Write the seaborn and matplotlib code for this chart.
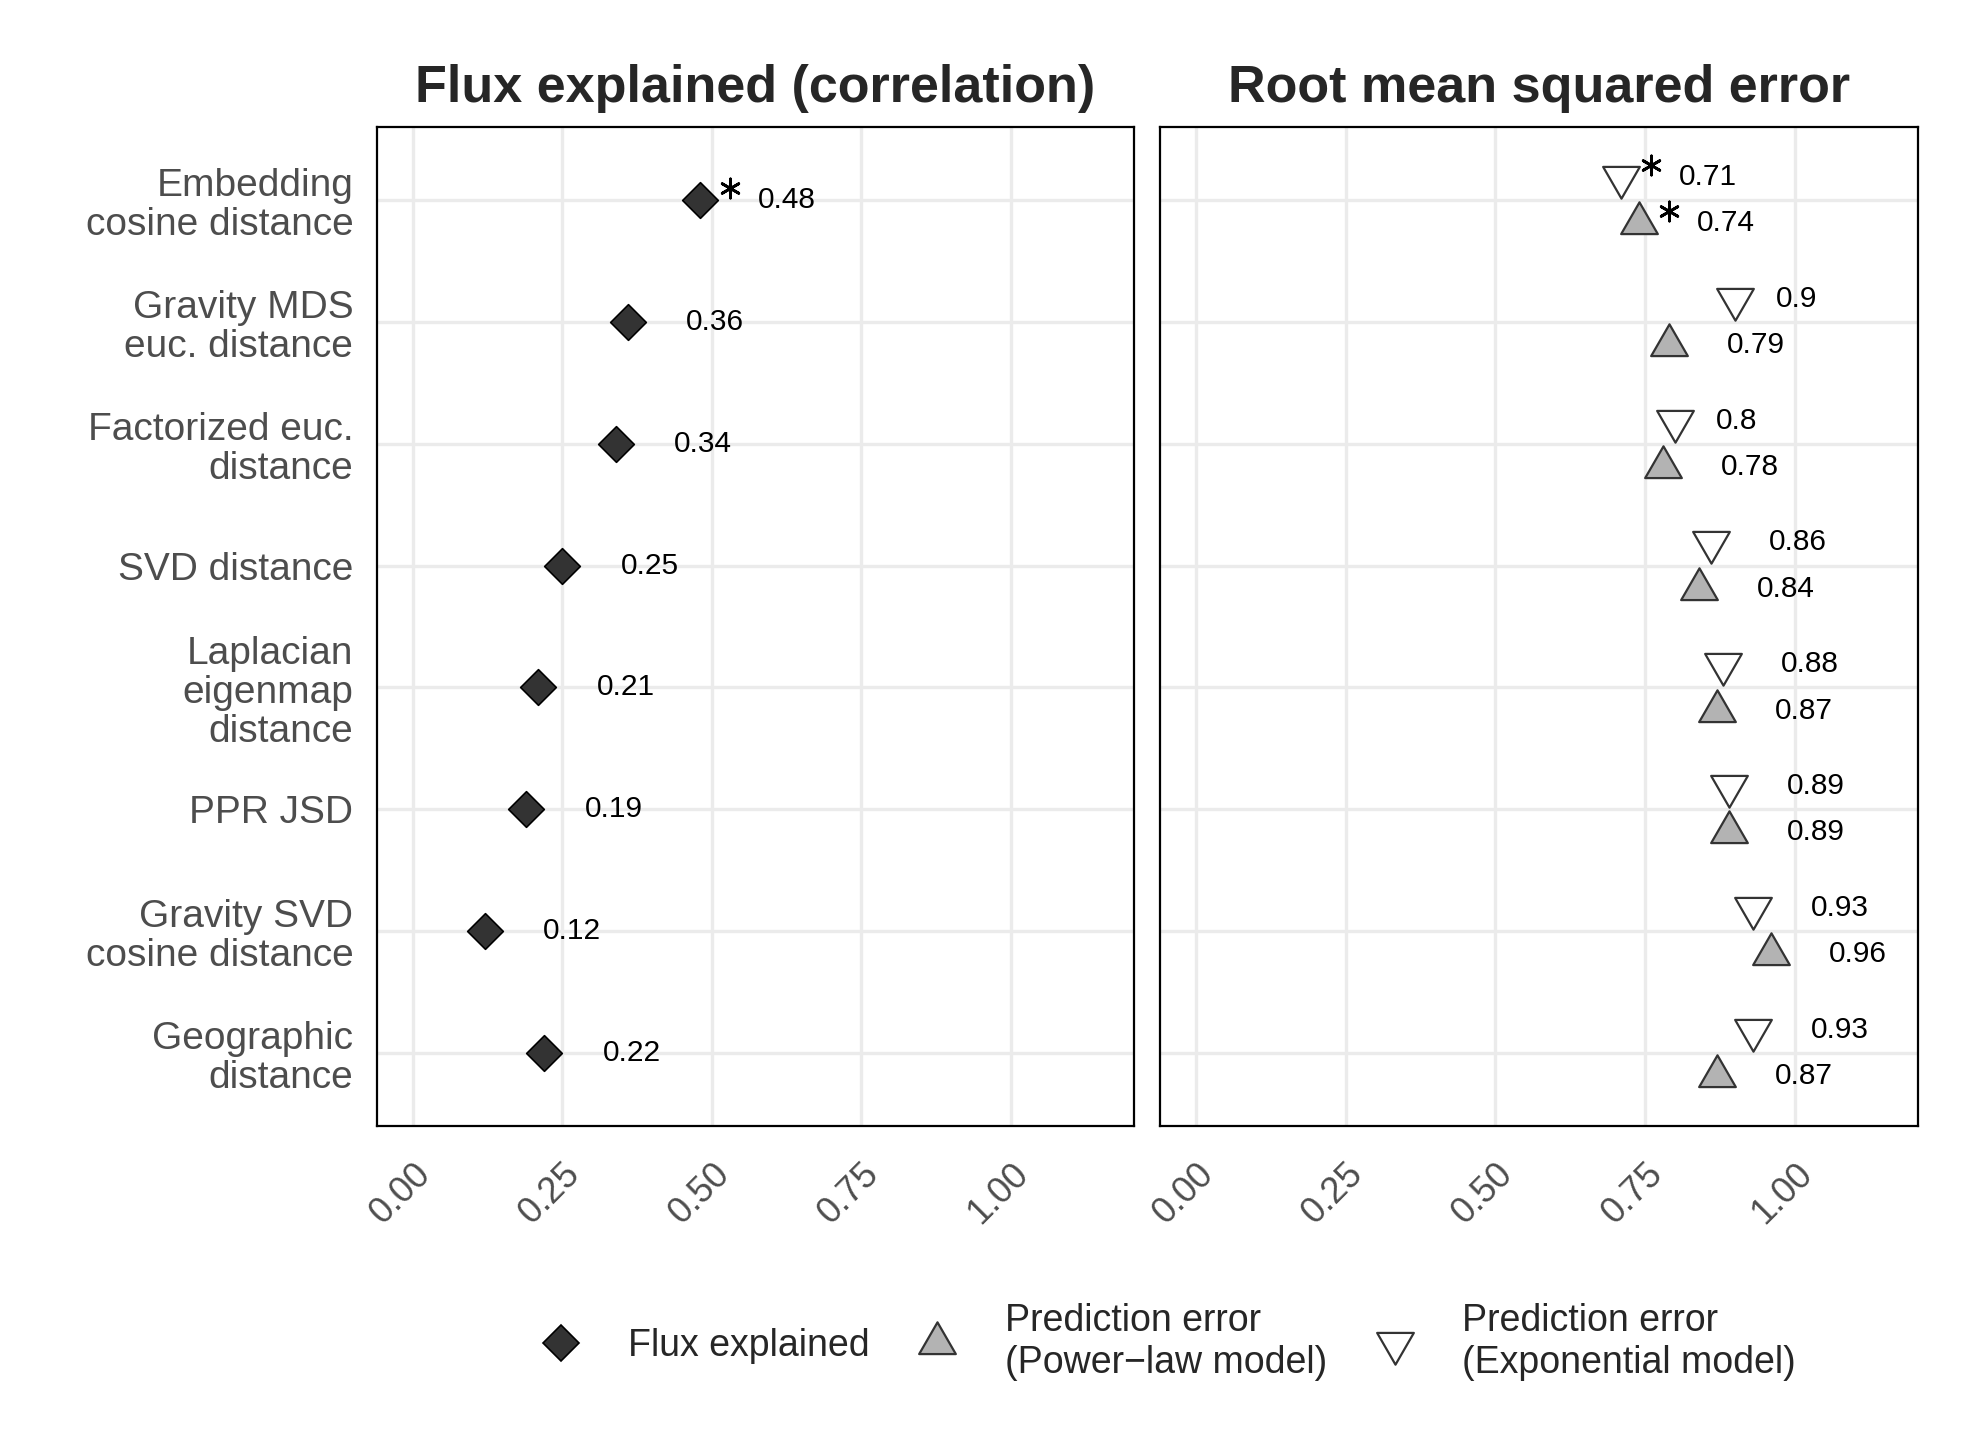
"""
Comparação das medidas de distância:
- painel esquerdo: fluxo explicado (correlação)
- painel direito: erro quadrático médio (modelos lei de potência / exponencial)
"""

import numpy as np
import pandas as pd
import matplotlib.pyplot as plt
import seaborn as sns
from matplotlib.lines import Line2D
from matplotlib.path import Path
from matplotlib.transforms import offset_copy

# Dados
metodos = ['Embedding\ncosine distance', 'Gravity MDS\neuc. distance',
           'Factorized euc.\ndistance', 'SVD distance',
           'Laplacian\neigenmap\ndistance', 'PPR JSD',
           'Gravity SVD\ncosine distance', 'Geographic\ndistance']
fluxo = [0.48, 0.36, 0.34, 0.25, 0.21, 0.19, 0.12, 0.22]
erro_potencia = [0.74, 0.79, 0.78, 0.84, 0.87, 0.89, 0.96, 0.87]
erro_exponencial = [0.71, 0.90, 0.80, 0.86, 0.88, 0.89, 0.93, 0.93]
sig_fluxo = [True, False, False, False, False, False, False, False]
sig_potencia = [True, False, False, False, False, False, False, False]
sig_exponencial = [True, False, False, False, False, False, False, False]
ticks_x = [0.0, 0.25, 0.5, 0.75, 1.0]

df = pd.DataFrame({'metodo': metodos, 'fluxo': fluxo,
                   'potencia': erro_potencia, 'exponencial': erro_exponencial})
df['pos'] = np.arange(len(df))

sns.set_style('white')
plt.rcParams['font.family'] = ['Liberation Sans', 'DejaVu Sans']

# Triângulos equiláteros centrados no baricentro (como no ggplot)
tri_cima = Path([(0, 1.155), (-1, -0.577), (1, -0.577), (0, 1.155)], closed=True)
tri_baixo = Path([(0, -1.155), (-1, 0.577), (1, 0.577), (0, -1.155)], closed=True)
TAM_D = 330
TAM_T = 930
dodge = 0.19

fig = plt.figure(figsize=(19.88, 14.32), dpi=100)
ax1 = fig.add_axes([0.1896, 0.2137, 0.3808, 0.6976])
ax2 = fig.add_axes([0.5835, 0.2137, 0.3813, 0.6976])

rotulos = []


def rotular(ax, xs, ys, sigs):
    xs, ys, sigs = np.asarray(xs), np.asarray(ys), np.asarray(sigs)
    for x, y in zip(xs, ys):
        t = ax.annotate(f'{x:g}', (x, y), xytext=(0, 0), textcoords='offset points',
                        ha='left', va='center', fontsize=21.5, color='black')
        rotulos.append(t)
    # asterisco de significância, deslocado para cima e à direita do ponto
    desloc = offset_copy(ax.transData, fig=fig, x=21.6, y=8.6, units='points')
    sns.scatterplot(x=xs[sigs], y=ys[sigs], marker=(6, 2, 0), s=190, color='black',
                    linewidth=2.0, transform=desloc, ax=ax, zorder=4)


# Painel esquerdo
sns.scatterplot(data=df, x='fluxo', y='pos', marker='D', s=TAM_D, color='#333333',
                edgecolor='black', linewidth=1.2, ax=ax1, zorder=3)
rotular(ax1, df['fluxo'], df['pos'], sig_fluxo)

# Painel direito
sns.scatterplot(x=df['exponencial'], y=df['pos'] - dodge, marker=tri_baixo, s=TAM_T,
                color='white', edgecolor='#333333', linewidth=1.6, ax=ax2, zorder=3)
sns.scatterplot(x=df['potencia'], y=df['pos'] + dodge, marker=tri_cima, s=TAM_T,
                color='#b3b3b3', edgecolor='#333333', linewidth=1.6, ax=ax2, zorder=3)
rotular(ax2, df['exponencial'], df['pos'] - dodge, sig_exponencial)
rotular(ax2, df['potencia'], df['pos'] + dodge, sig_potencia)

titulos = ['Flux explained (correlation)', 'Root mean squared error']
for ax, titulo in zip([ax1, ax2], titulos):
    ax.set_xlim(-0.06, 1.206)
    ax.set_ylim(len(df) - 1 + 0.6, -0.6)
    ax.set_xticks(ticks_x)
    ax.set_xticklabels([f'{v:.2f}' for v in ticks_x], rotation=45, ha='right',
                       rotation_mode='anchor', fontsize=26, color='#4d4d4d')
    ax.set_yticks(df['pos'])
    ax.grid(True, color='#ebebeb', linewidth=2.4, zorder=0)
    ax.set_axisbelow(True)
    ax.tick_params(axis='both', length=0)
    ax.tick_params(axis='x', pad=22)
    ax.set_xlabel('')
    ax.set_ylabel('')
    for sp in ax.spines.values():
        sp.set_color('black')
        sp.set_linewidth(1.6)
    ax.set_title(titulo, fontsize=37.5, fontweight='bold', pad=18)

ax1.set_yticklabels(df['metodo'], fontsize=28, color='#4d4d4d', linespacing=1.12)
ax1.tick_params(axis='y', pad=17)
ax2.set_yticklabels([])

# Legenda
handles = [
    Line2D([], [], linestyle='none', marker='D', markersize=np.sqrt(TAM_D),
           markerfacecolor='#333333', markeredgecolor='black', markeredgewidth=1.2),
    Line2D([], [], linestyle='none', marker=tri_cima, markersize=np.sqrt(TAM_T),
           markerfacecolor='#b3b3b3', markeredgecolor='#333333', markeredgewidth=1.6),
    Line2D([], [], linestyle='none', marker=tri_baixo, markersize=np.sqrt(TAM_T),
           markerfacecolor='white', markeredgecolor='#333333', markeredgewidth=1.6),
]
nomes = ['Flux explained', 'Prediction error\n(Power\u2212law model)',
         'Prediction error\n(Exponential model)']
fig.legend(handles, nomes, loc='center', bbox_to_anchor=(0.588, 0.063), ncol=3,
           frameon=False, fontsize=27, handlelength=1.0, handletextpad=1.3,
           columnspacing=1.3)

# Ajuste estilo hjust=-1: rótulo começa a uma largura de texto à direita do ponto
fig.canvas.draw()
renderer = fig.canvas.get_renderer()
for t in rotulos:
    w = t.get_window_extent(renderer).width * 72 / fig.dpi
    t.xyann = (w, 0)

fig.savefig('out.png', dpi=100, facecolor='white')
plt.close()
